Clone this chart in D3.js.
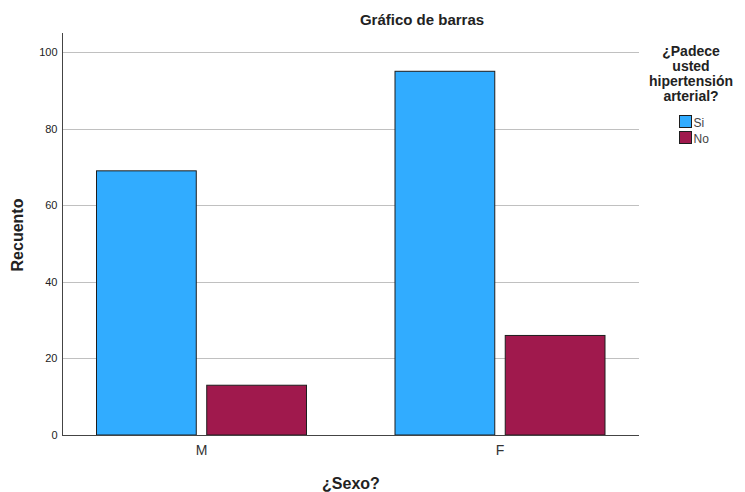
<!DOCTYPE html>
<html><head><meta charset="utf-8">
<script src="https://cdn.jsdelivr.net/npm/d3@7"></script>
<style>body{margin:0;background:#fff;}svg{display:block;font-family:"Liberation Sans",Arial,sans-serif;}</style>
</head><body>
<svg id="c" width="745" height="492"></svg>
<script>
const categories = ["M", "F"];
const seriesNames = ["Si", "No"];
const siValues = [69, 95];
const noValues = [13, 26];
const yTicks = [0, 20, 40, 60, 80, 100];
const colors = ["#31acff", "#a0194d"];

(function () {
const svg = d3.select("#c");
const pLeft = 62, pRight = 639, pTop = 33, pBottom = 435;

const y = d3.scaleLinear().domain([0, 105]).range([pBottom, pTop]);
const x = d3.scaleBand().domain(categories).range([52.25, 649.25]).padding(0);
const inner = d3.scaleBand().domain(seriesNames).range([0, 210]).paddingInner(0.095);

// gridlines
svg.append("g").selectAll("line").data(yTicks.filter(d => d > 0)).join("line")
  .attr("x1", pLeft).attr("x2", pRight)
  .attr("y1", d => Math.round(y(d)) + 0.5).attr("y2", d => Math.round(y(d)) + 0.5)
  .attr("stroke", "#c0c0c0").attr("stroke-width", 1);

// bars
const data = [];
categories.forEach((c, i) => {
  data.push({cat: c, s: "Si", v: siValues[i], col: colors[0]});
  data.push({cat: c, s: "No", v: noValues[i], col: colors[1]});
});
svg.append("g").selectAll("rect").data(data).join("rect")
  .attr("x", d => x(d.cat) + x.bandwidth() / 2 - 105 + inner(d.s))
  .attr("y", d => y(d.v))
  .attr("width", inner.bandwidth())
  .attr("height", d => y(0) - y(d.v))
  .attr("fill", d => d.col)
  .attr("stroke", "#1e1e1e").attr("stroke-width", 1);

// y axis
const yAxis = svg.append("g").attr("transform", `translate(${pLeft + 0.5},0)`)
  .call(d3.axisLeft(y).tickValues(yTicks).tickSize(0).tickPadding(5));
yAxis.select(".domain").attr("d", `M0,${pTop}V${pBottom}`).attr("stroke", "#444");
yAxis.selectAll("text").attr("font-size", 11).attr("fill", "#222")
  .attr("font-family", "Liberation Sans, Arial, sans-serif");

// x axis
const xAxis = svg.append("g").attr("transform", `translate(0,${pBottom + 0.5})`)
  .call(d3.axisBottom(x).tickSize(0).tickPadding(10));
xAxis.select(".domain").attr("d", `M${pLeft},0H${pRight}`).attr("stroke", "#444");
xAxis.selectAll("text").attr("font-size", 14).attr("fill", "#333")
  .attr("font-family", "Liberation Sans, Arial, sans-serif");

// titles
svg.append("text").attr("x", 422).attr("y", 25).attr("text-anchor", "middle")
  .attr("font-size", 15).attr("font-weight", "bold").attr("fill", "#222").text("Gráfico de barras");
svg.append("text").attr("transform", "translate(23,235) rotate(-90)").attr("text-anchor", "middle")
  .attr("font-size", 16).attr("font-weight", "bold").attr("fill", "#222").text("Recuento");
svg.append("text").attr("x", 351).attr("y", 489).attr("text-anchor", "middle")
  .attr("font-size", 16).attr("font-weight", "bold").attr("fill", "#222").text("¿Sexo?");

// legend
const legTitle = ["¿Padece", "usted", "hipertensión", "arterial?"];
svg.append("g").selectAll("text").data(legTitle).join("text")
  .attr("x", 691).attr("y", (d, i) => 56 + i * 15).attr("text-anchor", "middle")
  .attr("font-size", 14).attr("font-weight", "bold").attr("fill", "#222").text(d => d);
const leg = svg.append("g").selectAll("g").data(seriesNames).join("g")
  .attr("transform", (d, i) => `translate(679.5,${115.5 + i * 16})`);
leg.append("rect").attr("width", 12).attr("height", 12)
  .attr("fill", (d, i) => colors[i]).attr("stroke", "#1e1e1e");
leg.append("text").attr("x", 14).attr("y", 11).attr("font-size", 12).attr("fill", "#444").text(d => d);
})();
</script>
</body></html>
